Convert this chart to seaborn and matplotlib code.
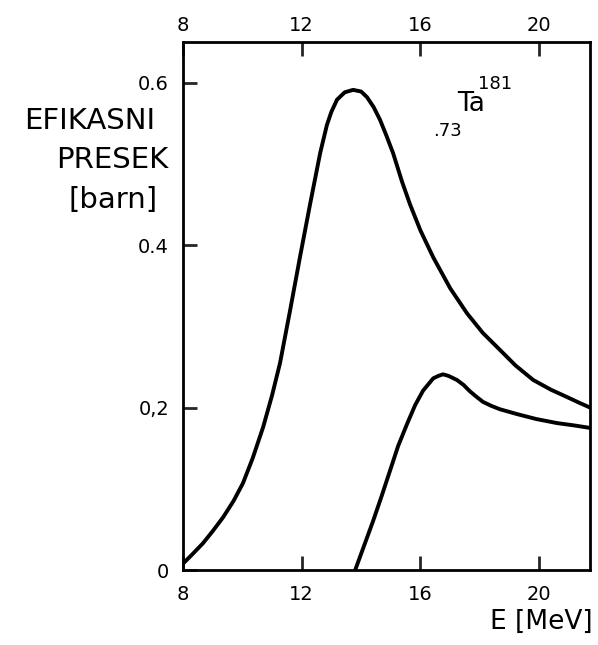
import numpy as np
import pandas as pd
import matplotlib
matplotlib.use("Agg")
import matplotlib.pyplot as plt
import matplotlib.transforms as mtransforms
import seaborn as sns

# values (E in MeV, cross section in barn)
upper_e = [8.0, 8.3, 8.67, 9.0, 9.35, 9.7, 10.02, 10.35, 10.7, 11.0, 11.27, 11.61, 11.94,
           12.28, 12.62, 12.85, 13.0, 13.19, 13.45, 13.73, 14.0, 14.2, 14.42, 14.64, 14.85,
           15.08, 15.38, 15.65, 16.0, 16.43, 17.0, 17.57, 18.1, 18.68, 19.2, 19.8, 20.4,
           20.94, 21.35, 21.72]
upper_sigma = [0.008, 0.019, 0.033, 0.048, 0.065, 0.085, 0.107, 0.138, 0.176, 0.215, 0.255,
               0.32, 0.385, 0.45, 0.513, 0.548, 0.564, 0.579, 0.588, 0.591, 0.589, 0.582,
               0.57, 0.554, 0.535, 0.513, 0.478, 0.45, 0.418, 0.385, 0.347, 0.316, 0.292,
               0.271, 0.252, 0.234, 0.222, 0.213, 0.206, 0.2]
lower_e = [13.8, 14.1, 14.4, 14.7, 14.98, 15.25, 15.55, 15.82, 16.09, 16.43, 16.6, 16.76,
           16.95, 17.23, 17.45, 17.67, 17.9, 18.11, 18.4, 18.68, 19.26, 19.9, 20.6, 21.2, 21.72]
lower_sigma = [0.0, 0.03, 0.06, 0.092, 0.123, 0.153, 0.18, 0.203, 0.221, 0.236, 0.239, 0.241,
               0.239, 0.234, 0.228, 0.22, 0.213, 0.207, 0.202, 0.198, 0.192, 0.186, 0.181,
               0.178, 0.175]

x_ticks = [8, 12, 16, 20]
y_ticks = [0, 0.2, 0.4, 0.6]
y_tick_labels = ["0", "0,2", "0.4", "0.6"]

df = pd.concat([
    pd.DataFrame({"E": upper_e, "sigma": upper_sigma, "kriva": "gornja"}),
    pd.DataFrame({"E": lower_e, "sigma": lower_sigma, "kriva": "donja"}),
])

sns.set_style("ticks")
plt.rcParams['font.family'] = ['DejaVu Sans']
plt.rcParams['text.color'] = 'black'

fig = plt.figure(figsize=(5.98, 6.45), dpi=100)
ax = fig.add_axes([0.306, 0.116, 0.681, 0.819])

sns.lineplot(data=df, x="E", y="sigma", units="kriva", estimator=None, sort=False,
             color="black", linewidth=2.8, ax=ax)

ax.set_xlim(8, 21.72)
ax.set_ylim(0, 0.65)
ax.set_xticks(x_ticks)
ax.set_xticklabels([str(t) for t in x_ticks])
ax.set_yticks(y_ticks)
ax.set_yticklabels(y_tick_labels)
ax.tick_params(axis="x", direction="in", length=10, width=2, top=True, labeltop=True,
               labelsize=14, labelcolor="black", pad=11)
ax.tick_params(axis="y", direction="in", length=10, width=2, labelsize=14,
               labelcolor="black", pad=10)
for s in ax.spines.values():
    s.set_linewidth(2)
    s.set_color("black")
ax.set_xlabel("")
ax.set_ylabel("")

# top labels sit closer to the frame than the bottom ones: shift them down 8 px
shift = mtransforms.ScaledTranslation(0, -8 / 100, fig.dpi_scale_trans)
for t in ax.xaxis.get_major_ticks():
    t.label2.set_transform(t.label2.get_transform() + shift)

fig.text(155 / 598, 1 - 121 / 645, "EFIKASNI", ha="right", va="center", fontsize=21)
fig.text(168 / 598, 1 - 160 / 645, "PRESEK", ha="right", va="center", fontsize=21)
fig.text(158 / 598, 1 - 200 / 645, "[barn]", ha="right", va="center", fontsize=21)
fig.text(593 / 598, 1 - 622 / 645, "E [MeV]", ha="right", va="center", fontsize=19)

ax.text(17.23, 0.574, "Ta", fontsize=19, ha="left", va="center")
ax.text(17.94, 0.598, "181", fontsize=13, ha="left", va="center")
ax.text(16.43, 0.541, ".73", fontsize=13, ha="left", va="center")

fig.savefig("out.png", dpi=100)
